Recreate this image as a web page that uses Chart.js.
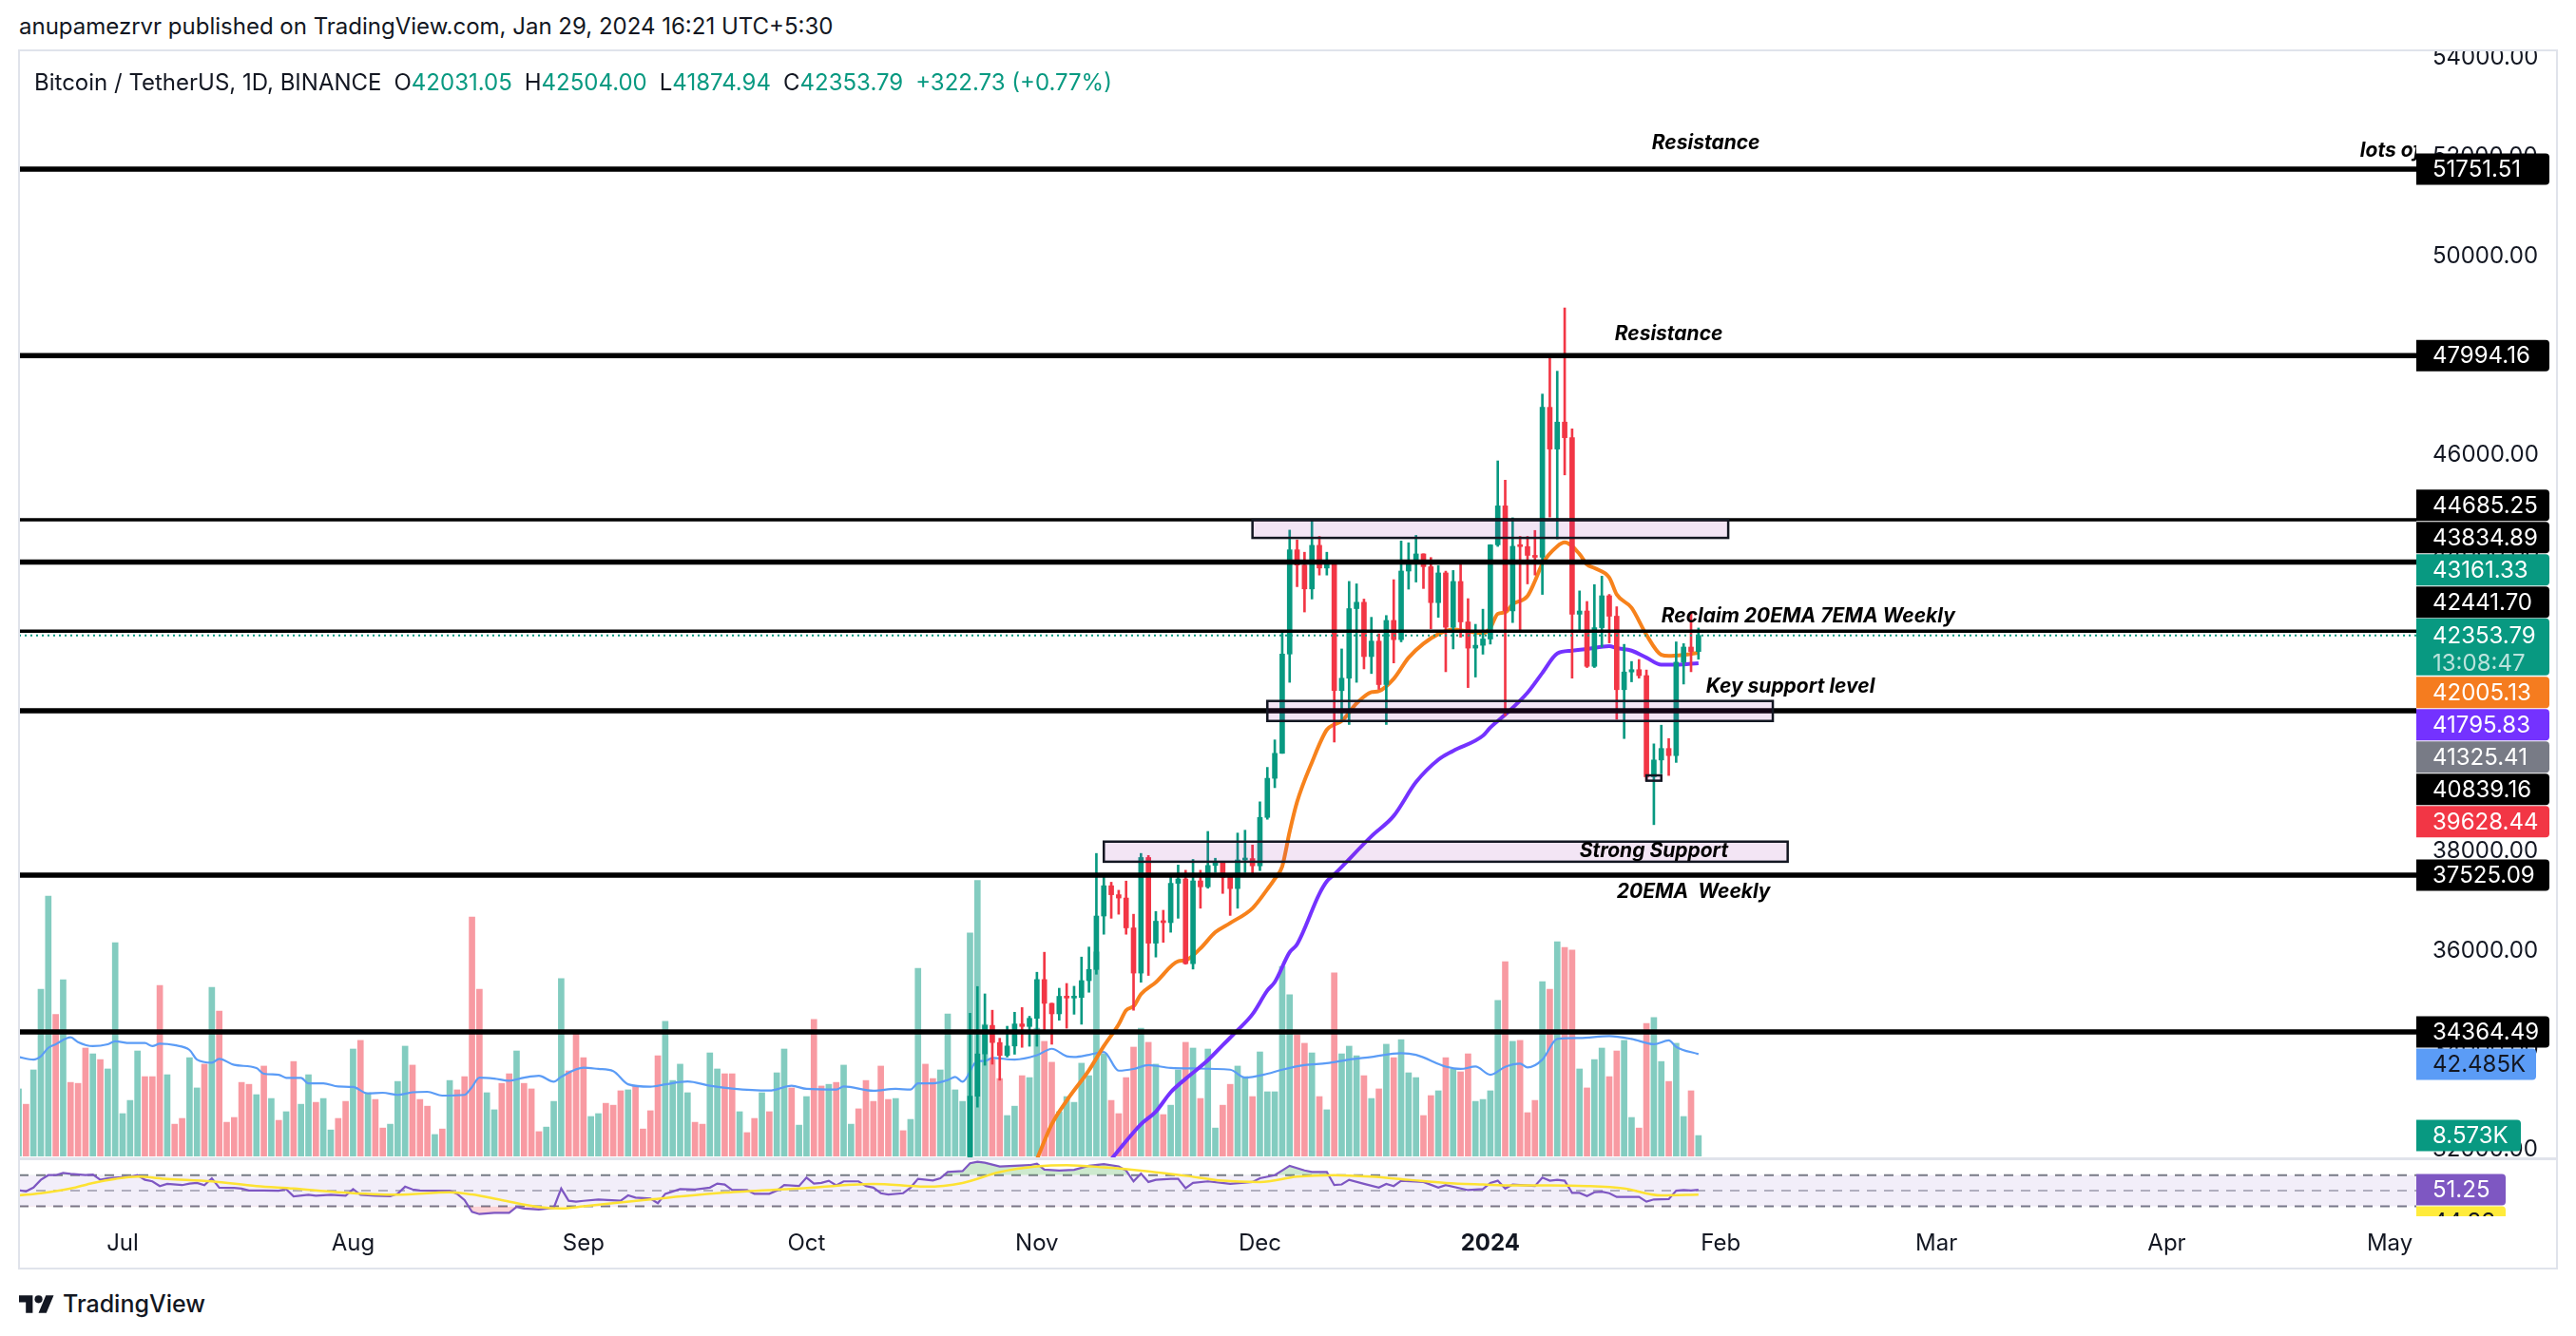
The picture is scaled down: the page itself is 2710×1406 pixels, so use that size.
<!DOCTYPE html>
<html>
<head>
<meta charset="utf-8">
<title>Bitcoin / TetherUS, 1D, BINANCE</title>
<script src="https://cdn.jsdelivr.net/npm/chart.js@4.4.1/dist/chart.umd.min.js"></script>
<style>
  html, body { margin:0; padding:0; background:#ffffff; }
  body { width:2710px; height:1406px; position:relative; overflow:hidden; font-family: Inter, "Noto Sans", Roboto, sans-serif; color:#131722; }
  #hdr { position:absolute; left:20px; top:12px; font-size:24px; line-height:32px; white-space:nowrap; }
  #legend { position:absolute; left:36px; top:71px; font-size:24px; line-height:32px; white-space:nowrap; z-index:3; }
  #legend .g { color:#089981; }
  #legend .gap { margin-left:13px; }
  canvas { position:absolute; }
  #c1 { left:20px; top:53px; }
  #c2 { left:20px; top:1219px; }
  #frame { position:absolute; left:19px; top:52px; width:2672px; height:1284px; box-sizing:border-box; border:2px solid #e0e3eb; z-index:2; pointer-events:none; }
  #sep { position:absolute; left:20px; top:1218px; width:2670px; height:3px; background:#e0e3eb; z-index:2; }
  #logo { position:absolute; left:20px; top:1356px; height:32px; display:flex; align-items:center; gap:9px; font-size:25px; font-weight:500; color:#131722; }
</style>
</head>
<body>
<div id="hdr">anupamezrvr published on TradingView.com, Jan 29, 2024 16:21 UTC+5:30</div>
<canvas id="c1" width="2670" height="1166"></canvas>
<canvas id="c2" width="2670" height="117"></canvas>
<div id="frame"></div>
<div id="sep"></div>
<div id="legend">Bitcoin / TetherUS, 1D, BINANCE<span class="gap">O<span class="g">42031.05</span></span><span class="gap">H<span class="g">42504.00</span></span><span class="gap">L<span class="g">41874.94</span></span><span class="gap">C<span class="g">42353.79</span></span><span class="gap g">+322.73 (+0.77%)</span></div>
<div id="logo"><svg width="37" height="19" viewBox="0 4 36 18"><path d="M14 22H7V11H0V4h14v18zM28 22h-8l7.5-18h8L28 22z" fill="#131722"/><circle cx="20" cy="8" r="4" fill="#131722"/></svg><span>TradingView</span></div>
<script>
// ---------------- DATA ----------------
// dates are "m/d": Jun–Dec = 2023, Jan–May = 2024
const candleStart = '10/23';
const opens  = [29993,33070,33922,34497,34152,33892,34082,34526,34475,
  34639,35421,34941,34730,35083,35049,35060,35399,35624,36701,37311,37130,37064,36462,35551,37880,36154,36596,36568,37360,37448,35741,37409,37289,37720,37796,37479,37254,37831,37858,
  37712,38688,39476,39979,41980,44080,43773,43292,44170,43713,43789,41243,41493,42895,43023,41929,42240,41364,42657,42270,43652,43869,43997,43740,43016,43614,42520,43442,42627,42099,42156,
  42283,44180,44965,42849,44151,44145,43968,43929,46951,46110,46653,46339,42782,42847,41732,42511,43154,42742,41262,41618,41665,41545,39507,39845,40077,39933,41816,42120,42031];
const highs  = [34741,35280,35132,34803,34238,34480,34762,34856,34681,
  35568,35971,34946,35246,35342,35286,35874,36076,37962,37502,37382,37220,37405,36737,37962,37921,36793,36817,37486,37728,37623,37841,37623,38405,37865,37801,37543,38373,38430,38131,
  39002,39696,40250,42402,44477,44279,44031,44683,44350,44031,43804,42083,43443,43394,43087,42720,42388,42756,43478,44258,44222,44370,44000,43925,43762,43650,43663,43804,43096,42579,42883,
  44184,45872,45483,44725,44350,44350,44470,47218,47941,47679,48954,46515,43252,43039,43379,43549,43181,42933,42175,41830,41870,41658,40170,40546,40277,42225,42189,42827,42504];
const lows   = [29883,32850,33694,33715,33392,33860,33916,34055,34077,
  34077,34400,34117,34601,34440,34722,34520,35165,35528,36334,36656,36737,36334,34802,35367,35504,35874,36172,36374,36656,35729,35632,36858,37261,37583,37156,36713,36858,37580,37502,
  37615,38650,39287,39978,41410,43337,42827,43089,43571,43571,40206,40666,40560,41410,41680,41587,41269,40560,41800,42225,43287,43431,43300,42487,42720,41623,42083,42318,41304,41516,41977,
  42180,44148,40737,42614,42459,43393,43571,43181,44740,44300,45589,41495,42437,41708,41708,42119,42204,40666,40277,41420,41495,39427,38542,39569,39533,39796,41375,41623,41875];
const closes = [33070,33922,34497,34152,33892,34082,34526,34475,34639,
  35421,34941,34730,35083,35049,35060,35399,35624,36701,37311,37130,37064,36462,35551,37880,36154,36596,36568,37360,37448,35741,37409,37289,37720,37796,37479,37254,37831,37858,37712,
  38688,39476,39979,41980,44080,43773,43292,44170,43713,43789,41243,41493,42895,43023,41929,42240,41364,42657,42270,43652,43869,43997,43740,43016,43614,42520,43442,42627,42099,42156,42283,
  44180,44965,42849,44151,44145,43968,43929,46951,46110,46653,46339,42782,42847,41732,42511,43154,42742,41262,41618,41665,41545,39507,39845,40077,39933,41816,42120,42031,42354];

// volume (thousand BTC), one bar per day from volStart
const volStart = '6/17';
const volumes = [
  28.0,21.6,35.9,69.5,108.3,59.0,73.5,30.7,30.3,45.0,42.6,40.2,36.3,88.9,
  17.7,23.2,43.8,33.1,33.1,71.1,33.9,13.3,15.7,41.0,28.4,38.3,70.3,60.4,14.1,16.1,30.7,29.9,25.6,37.5,24.0,14.9,18.5,39.4,21.6,33.9,22.4,24.0,10.9,15.7,22.8,
  44.6,48.2,26.4,23.6,11.7,13.3,31.1,45.8,37.9,23.6,20.8,9.0,11.3,31.5,27.6,33.1,99.6,69.5,26.4,19.3,30.3,34.3,43.8,30.3,28.0,10.2,12.1,22.8,73.9,35.5,50.8,
  41.0,16.5,17.7,22.0,21.2,27.2,27.6,29.2,11.3,18.9,41.8,56.1,31.5,38.3,26.4,14.1,13.3,43.0,36.3,34.3,34.3,18.5,9.8,15.7,26.4,18.5,34.7,44.6,28.4,12.9,
  24.8,56.9,29.2,29.9,30.7,37.9,13.3,19.7,31.5,22.8,37.5,23.6,24.0,10.6,15.3,78.2,38.3,32.3,35.9,59.2,27.6,22.8,92.9,114.8,54.9,40.2,32.3,16.9,20.8,33.5,32.7,
  53.3,47.8,39.1,18.5,24.8,22.4,38.7,33.5,85.0,42.6,23.2,17.7,32.7,45.4,53.3,47.4,38.3,17.3,21.2,35.9,47.4,45.0,24.0,44.6,11.7,21.2,29.9,37.5,33.1,24.8,
  43.4,26.8,26.8,79.0,67.2,50.5,47.0,43.0,24.8,19.3,76.3,42.6,45.8,41.8,33.5,24.0,28.0,46.6,41.0,48.5,34.7,32.7,16.9,25.2,27.2,41.0,36.3,35.1,42.6,22.8,23.6,
  27.2,64.8,81.0,47.8,48.2,18.1,23.2,72.7,69.5,89.3,86.9,85.8,36.3,28.4,40.2,45.0,33.1,43.8,48.2,16.1,11.7,55.3,57.7,39.4,31.1,47.0,16.5,27.2,8.573];
// g = up bar, r = down bar
const volDirs = ['grgggrgrrrgrgg','gggrrrgrrggrgrrrrrgrgrgrggrggrr','grgrrgggrrrgrgrrrrggrrgrrrgggrr',
  'rggrrrgrrrrggggrrggrrgrrgrggrg','grrgrggrrrrrgrggrrgggggggrrggrg','grrgggggggrrrrgrgrggrgrggrrggr',
  'gggggrrgrgrgggrgrgrgggrrgrgrrgg','ggrgrrrgrgrrgrggrrggrrggrggrg'].join('');

const volMA = [['6/17',41.3],['6/19',40.2],['6/20',41.6],['6/21',45.1],['6/22',46.6],['6/24',49.5],['6/25',47.5],['6/27',45.8],['6/29',46.6],['6/30',47.8],
  ['7/2',47.1],['7/4',47.1],['7/5',45.8],['7/6',46.8],['7/8',46.2],['7/10',44.2],['7/11',40.2],['7/13',38.9],['7/14',40.5],['7/16',38.0],['7/19',36.7],['7/20',34.3],['7/22',33.9],['7/23',32.6],['7/25',32.6],['7/26',30.3],['7/28',30.3],['7/30',29.0],
  ['8/1',28.8],['8/3',26.1],['8/5',26.4],['8/7',25.5],['8/9',26.6],['8/11',26.8],['8/13',25.2],['8/16',25.5],['8/17',28.8],['8/18',32.7],['8/20',32.3],['8/22',31.4],['8/24',32.7],['8/26',33.5],['8/28',31.0],['8/29',33.0],
  ['9/1',36.8],['9/3',36.3],['9/5',35.4],['9/7',29.9],['9/10',28.9],['9/12',29.9],['9/15',31.1],['9/18',29.3],['9/21',28.1],['9/26',27.3],['9/29',29.3],
  ['10/1',28.0],['10/5',27.7],['10/6',29.0],['10/10',27.2],['10/13',28.0],['10/15',27.7],['10/16',30.3],['10/18',30.3],['10/20',31.7],['10/21',33.0],['10/22',31.0],['10/24',39.6],['10/25',39.6],['10/26',40.9],['10/29',40.2],
  ['11/1',42.0],['11/3',44.7],['11/5',41.6],['11/6',41.3],['11/8',42.2],['11/10',43.4],['11/12',35.6],['11/14',36.3],['11/16',37.9],['11/19',36.7],['11/22',36.5],['11/27',36.0],['11/29',32.7],
  ['12/2',34.3],['12/4',36.0],['12/7',37.9],['12/10',38.7],['12/13',40.2],['12/16',41.3],['12/20',42.9],['12/22',42.2],['12/26',37.3],['12/28',36.3],['12/30',37.3],
  ['1/1',33.9],['1/3',37.2],['1/5',38.5],['1/6',36.9],['1/8',40.2],['1/10',48.8],['1/13',49.2],['1/17',50.0],['1/20',48.8],['1/23',46.6],['1/25',48.2],['1/26',45.5],['1/29',42.485]];

const emaOrange = [['11/1',31800],['11/3',32505],['11/5',32980],['11/8',33593],['11/10',34080],['11/12',34520],['11/13',34802],['11/14',34883],['11/15',35125],['11/17',35367],['11/20',35790],['11/21',35810],['11/23',36050],['11/25',36374],['11/27',36560],['11/30',36858],
  ['12/2',37240],['12/3',37450],['12/4',37700],['12/5',38400],['12/6',39000],['12/8',39800],['12/10',40454],['12/11',40560],['12/12',40631],['12/14',40985],['12/16',41212],['12/17',41233],['12/19',41481],['12/21',41906],['12/23',42189],['12/25',42381],['12/27',42473],['12/29',42437],['12/31',42402],
  ['1/1',42508],['1/2',42791],['1/3',42820],['1/4',42980],['1/6',43150],['1/7',43450],['1/8',43800],['1/10',44150],['1/11',44229],['1/13',43995],['1/14',43783],['1/15',43712],['1/17',43520],['1/18',43180],['1/20',42912],['1/22',42366],['1/24',41963],['1/25',41941],['1/27',41963],['1/29',42005.13]];

const emaPurple = [['11/11',31800],['11/15',32505],['11/17',32760],['11/19',33150],['11/21',33420],['11/24',33795],['11/26',34100],['11/28',34400],['11/30',34722],
  ['12/2',35200],['12/3',35371],['12/5',35971],['12/6',36132],['12/9',37150],['12/10',37400],['12/11',37540],['12/16',38308],['12/19',38719],['12/22',39400],['12/25',39852],['12/27',40029],['12/31',40334],
  ['1/1',40500],['1/3',40759],['1/6',41200],['1/8',41600],['1/10',41990],['1/12',42048],['1/14',42083],['1/17',42140],['1/18',42100],['1/20',42048],['1/22',41906],['1/24',41764],['1/26',41764],['1/29',41795.83]];

const rsi = [['6/17',50.8],['6/18',49.2],['6/19',54],['6/20',64],['6/21',70],['6/22',70],['6/23',72.8],['6/24',71.6],['6/26',70],['6/27',70.8],['6/28',64],['6/29',66],['6/30',66.8],
  ['7/2',68],['7/3',70],['7/4',64],['7/5',62],['7/6',56],['7/7',58.8],['7/9',57.2],['7/10',59.2],['7/11',60],['7/12',57.2],['7/13',66],['7/14',54],['7/16',53.6],['7/17',52.8],['7/18',50.4],['7/20',50.4],['7/22',50],['7/23',52],['7/24',42.8],['7/26',44.8],['7/27',43.6],['7/29',44.8],['7/31',43.6],
  ['8/1',52],['8/2',44.8],['8/4',43.6],['8/6',42.8],['8/7',46],['8/8',55.2],['8/9',51.6],['8/10',50.4],['8/12',50],['8/14',50],['8/15',46],['8/16',38],['8/17',22.8],['8/18',20],['8/20',21.6],['8/22',21.6],['8/23',29.2],['8/24',27.2],['8/26',26],['8/28',28],['8/29',52.8],['8/30',37.2],['8/31',36],
  ['9/1',37],['9/3',38.8],['9/6',37.2],['9/7',44],['9/8',41.2],['9/10',40],['9/11',34],['9/12',46],['9/14',52],['9/16',51.6],['9/18',54],['9/19',59.2],['9/20',58],['9/21',50.8],['9/23',50.8],['9/24',46],['9/26',46],['9/27',50],['9/28',57.2],['9/30',56],
  ['10/1',66.8],['10/2',59.2],['10/3',60],['10/4',62.8],['10/5',56.8],['10/6',62],['10/8',62],['10/9',56],['10/10',54],['10/11',46.8],['10/12',45.2],['10/14',46.8],['10/15',54],['10/16',65.2],['10/18',63.2],['10/19',66],['10/20',74],['10/22',75.2],['10/23',85.2],['10/24',87.2],['10/25',86],['10/27',81.2],['10/29',82],['10/31',82.8],
  ['11/1',84.8],['11/2',77.2],['11/4',76],['11/6',76.8],['11/8',82],['11/10',84],['11/12',81.2],['11/13',76],['11/14',62],['11/15',72],['11/16',61.2],['11/17',64],['11/19',65.2],['11/20',65.2],['11/21',53.2],['11/22',60],['11/24',62],['11/27',58.8],['11/30',61.2],
  ['12/1',66],['12/3',70],['12/5',82],['12/7',76],['12/8',74],['12/10',74],['12/11',57.2],['12/12',58],['12/13',64],['12/15',58.8],['12/17',54],['12/18',58.8],['12/19',56],['12/20',62.8],['12/23',61.2],['12/25',54],['12/26',57.2],['12/29',50.8],['12/31',52],
  ['1/1',60],['1/2',62.8],['1/3',52.8],['1/4',58],['1/7',56],['1/8',66.8],['1/9',62.8],['1/10',64],['1/11',62.8],['1/12',47.2],['1/13',47.2],['1/14',43.2],['1/15',48],['1/16',48.8],['1/17',46.8],['1/18',42],['1/19',42],['1/21',42],['1/22',36],['1/23',38.8],['1/25',39.2],['1/26',50],['1/27',50.8],['1/28',50.4],['1/29',51.25]];

const rsiMA = [['6/17',44],['6/20',46.8],['6/24',52.8],['6/27',60],['6/30',65.2],['7/3',68],['7/7',65.2],['7/13',62],['7/19',56],['7/24',52.8],['7/30',48],['8/7',44.8],['8/14',48],['8/17',45.2],['8/21',38],['8/26',29.2],['8/29',27.2],
  ['9/1',30],['9/10',38.8],['9/20',47.6],['9/30',52.8],['10/10',58.8],['10/17',55.2],['10/22',60],['10/27',74],['11/1',81.2],['11/5',82.8],['11/10',80],['11/16',74.8],['11/21',69.2],['11/26',62.8],
  ['12/1',61.2],['12/6',68],['12/11',70],['12/16',68],['12/21',64],['12/26',60],['12/31',58],['1/4',56.8],['1/9',56.8],['1/14',56],['1/19',52.8],['1/24',44],['1/29',44.83]];

// horizontal levels drawn on the chart
const levels = [51751.51, 47994.16, 44685.25, 43834.89, 42441.70, 40839.16, 37525.09, 34364.49];
const lastPrice = 42353.79;
// boxes (zones)
const zoneFrom   = ['11/30', '12/2', '11/10', '1/22'];
const zoneTo     = ['2/2',   '2/8',  '2/10',  '1/24'];
const zoneTop    = [44685,   41034,  38200,   39535];
const zoneBottom = [44320,   40631,  37795,   39427];
// text notes
const noteText  = ['Resistance', 'lots of liquidity', 'Resistance', 'Reclaim 20EMA 7EMA Weekly', 'Key support level', 'Strong Support', '20EMA  Weekly'];
const noteDate  = ['1/30', '4/27', '1/25', '1/24', '1/30', '1/13', '1/18'];
const notePrice = [52152, 51999, 48310, 42618, 41201, 37889, 37056];
// price axis
const priceTicks = [54000, 52000, 50000, 48000, 46000, 44000, 42000, 40000, 38000, 36000, 34000, 32000];
const axisLabelValues = [51751.51, 47994.16, 44685.25, 43834.89, 43161.33, 42441.70, 42353.79, 42005.13, 41795.83, 41325.41, 40839.16, 39628.44, 37525.09, 34364.49];
const volLabelValues = [42.485, 8.573];
const rsiLabelValues = [51.25, 44.83];
const countdown = '13:08:47';
// time axis
const monthTicks  = ['7/1','8/1','9/1','10/1','11/1','12/1','1/1','2/1','3/1','4/1','5/1'];
const monthLabels = ['Jul','Aug','Sep','Oct','Nov','Dec','2024','Feb','Mar','Apr','May'];

// ---------------- helpers ----------------
const DAY0 = Date.UTC(2023, 6, 1);
function dayIdx(s) {
  const [m, d] = s.split('/').map(Number);
  const y = m >= 6 ? 2023 : 2024;
  return (Date.UTC(y, m - 1, d) - DAY0) / 864e5;
}
const pts = arr => arr.map(([d, v]) => ({ x: dayIdx(d), y: v }));
const noPad = s => { s.paddingTop = 0; s.paddingBottom = 0; s.paddingLeft = 0; s.paddingRight = 0; };

// view window (days from Jul 1 2023)
const X_MIN = -13.94, X_MAX = 308.57;
const UP = '#089981', DOWN = '#f23645';
const FONT = 'Inter';
Chart.defaults.font.family = FONT;

const c0 = dayIdx(candleStart);
const candleX = opens.map((_, i) => c0 + i);
const candleCol = opens.map((o, i) => closes[i] >= o ? UP : DOWN);
const v0 = dayIdx(volStart);

const axisLabelColors = ['#000000','#000000','#000000','#000000',UP,'#000000',UP,'#f57c1f','#7432ff','#787b86','#000000',DOWN,'#000000','#000000'];
const mainLabelIndex = 6;

const thinLevels = new Set([44685.25, 42441.70]);
const levelSets = levels.map(v => ({
  type: 'line', yAxisID: 'y', order: 3, clip: 0,
  data: [{ x: X_MIN, y: v }, { x: X_MAX, y: v }],
  borderColor: '#000000', borderWidth: thinLevels.has(v) ? 3.5 : 5.5, pointRadius: 0
}));

function labelBox(ctx, x0, cy, w, bg, fg, text) {
  ctx.fillStyle = bg;
  ctx.beginPath();
  ctx.roundRect(x0, cy - 16.5, w, 33, [0, 4, 4, 0]);
  ctx.fill();
  ctx.fillStyle = fg;
  ctx.font = '24px ' + FONT;
  ctx.textAlign = 'left';
  ctx.textBaseline = 'middle';
  ctx.fillText(text, x0 + 17, cy + 1);
}
const SLOT = 34;

const mainOverlay = {
  id: 'mainOverlay',
  afterDatasetsDraw(chart) {
    const { ctx, chartArea: a, scales } = chart;
    const x = scales.x, y = scales.y;
    ctx.save();
    ctx.beginPath(); ctx.rect(a.left, a.top, a.right - a.left, a.bottom - a.top); ctx.clip();
    for (let i = 0; i < zoneFrom.length; i++) {
      const x0 = x.getPixelForValue(dayIdx(zoneFrom[i])), x1 = x.getPixelForValue(dayIdx(zoneTo[i]));
      const y0 = y.getPixelForValue(zoneTop[i]), y1 = y.getPixelForValue(zoneBottom[i]);
      ctx.fillStyle = 'rgba(156,39,176,0.12)';
      ctx.fillRect(x0, y0, x1 - x0, y1 - y0);
      ctx.strokeStyle = '#131722'; ctx.lineWidth = 2.5;
      ctx.strokeRect(x0, y0, x1 - x0, y1 - y0);
    }
    ctx.fillStyle = '#000000';
    ctx.font = 'italic 700 21px ' + FONT;
    ctx.textBaseline = 'alphabetic';
    for (let i = 0; i < noteText.length; i++) {
      ctx.textAlign = noteText[i] === 'Resistance' ? 'center' : 'left';
      ctx.fillText(noteText[i], x.getPixelForValue(dayIdx(noteDate[i])), y.getPixelForValue(notePrice[i]));
    }
    ctx.restore();
  },
  afterDraw(chart) {
    const { ctx, chartArea: a, scales } = chart;
    const items = axisLabelValues.map((v, i) => ({
      text: v.toFixed(2), ty: scales.y.getPixelForValue(v), bg: axisLabelColors[i], fg: '#ffffff', w: 140, main: i === mainLabelIndex
    }));
    volLabelValues.forEach((v, i) => items.push({
      text: v.toFixed(3) + 'K', ty: scales.yv.getPixelForValue(v), bg: i === 0 ? '#5b9cf6' : UP, fg: i === 0 ? '#131722' : '#ffffff', w: i === 0 ? 126 : 110, main: false
    }));
    const main = items.find(it => it.main);
    const mTop = main.ty - 18, mBot = mTop + 61;
    const above = items.filter(it => !it.main && it.ty < main.ty).sort((p, q) => q.ty - p.ty);
    let lim = mTop;
    for (const it of above) { it.cy = Math.min(it.ty, lim - SLOT / 2); lim = it.cy - SLOT / 2; }
    const below = items.filter(it => !it.main && it.ty >= main.ty).sort((p, q) => p.ty - q.ty);
    lim = mBot;
    for (const it of below) { it.cy = Math.max(it.ty, lim + SLOT / 2); lim = it.cy + SLOT / 2; }
    ctx.save();
    const x0 = a.right;
    for (const it of items) { if (!it.main) labelBox(ctx, x0, it.cy, it.w, it.bg, it.fg, it.text); }
    ctx.fillStyle = main.bg;
    ctx.beginPath(); ctx.roundRect(x0, mTop, main.w, 60, [0, 4, 4, 0]); ctx.fill();
    ctx.fillStyle = '#ffffff'; ctx.font = '24px ' + FONT; ctx.textAlign = 'left'; ctx.textBaseline = 'middle';
    ctx.fillText(main.text, x0 + 17, main.ty + 1);
    ctx.fillStyle = 'rgba(255,255,255,0.72)';
    ctx.fillText(countdown, x0 + 17, main.ty + 30);
    ctx.restore();
  }
};

new Chart(document.getElementById('c1'), {
  type: 'bar',
  data: {
    datasets: [
      { type: 'bar', yAxisID: 'yv', order: 10, grouped: false, clip: 0, barThickness: 6,
        data: volumes.map((v, i) => ({ x: v0 + i, y: v })),
        backgroundColor: volumes.map((_, i) => volDirs[i] === 'g' ? 'rgba(8,153,129,0.5)' : 'rgba(242,54,69,0.5)') },
      { type: 'line', yAxisID: 'yv', order: 9, clip: 0, data: pts(volMA), borderColor: '#5b9cf6', borderWidth: 2.2, pointRadius: 0, cubicInterpolationMode: 'monotone' },
      { type: 'line', yAxisID: 'y', order: 8, clip: 0, data: pts(emaOrange), borderColor: '#f7821c', borderWidth: 4, pointRadius: 0, cubicInterpolationMode: 'monotone' },
      { type: 'line', yAxisID: 'y', order: 7, clip: 0, data: pts(emaPurple), borderColor: '#7432ff', borderWidth: 4, pointRadius: 0, cubicInterpolationMode: 'monotone' },
      { type: 'bar', yAxisID: 'y', order: 6, grouped: false, clip: 0, barThickness: 2,
        data: candleX.map((x, i) => ({ x, y: [lows[i], highs[i]] })), backgroundColor: candleCol },
      { type: 'bar', yAxisID: 'y', order: 5, grouped: false, clip: 0, barThickness: 5, minBarLength: 2,
        data: candleX.map((x, i) => ({ x, y: [opens[i], closes[i]] })), backgroundColor: candleCol },
      ...levelSets,
      { type: 'line', yAxisID: 'y', order: 2, clip: 0, data: [{ x: X_MIN, y: lastPrice }, { x: X_MAX, y: lastPrice }],
        borderColor: UP, borderWidth: 2, borderDash: [2, 4], pointRadius: 0 }
    ]
  },
  options: {
    responsive: false, animation: false, events: [],
    layout: { padding: 0 },
    plugins: { legend: { display: false }, tooltip: { enabled: false } },
    scales: {
      x: { type: 'linear', min: X_MIN, max: X_MAX, offset: false, display: false, afterFit: noPad },
      y: { type: 'linear', position: 'right', min: 31819, max: 54143.6,
        grid: { display: false, drawTicks: false }, border: { display: false },
        afterBuildTicks: s => { s.ticks = priceTicks.map(v => ({ value: v })); },
        afterFit: s => { s.width = 148; noPad(s); },
        ticks: { padding: 17, autoSkip: false, crossAlign: 'near', color: '#131722', font: { family: FONT, size: 24 },
          callback: v => Number(v).toFixed(2) } },
      yv: { type: 'linear', display: false, min: -0.91, max: 460.5, afterFit: noPad }
    }
  },
  plugins: [mainOverlay]
});

const rsiOverlay = {
  id: 'rsiOverlay',
  afterDraw(chart) {
    const { ctx, chartArea: a, scales } = chart;
    ctx.save();
    ctx.beginPath(); ctx.rect(0, 0, chart.width, a.bottom); ctx.clip();
    let lim = -1e9;
    const bgs = ['#7e57c2', '#ffeb3b'], fgs = ['#ffffff', '#131722'];
    rsiLabelValues.forEach((v, i) => {
      const cy = Math.max(scales.y.getPixelForValue(v), lim + SLOT / 2);
      lim = cy + SLOT / 2;
      labelBox(ctx, a.right, cy, 94, bgs[i], fgs[i], v.toFixed(2));
    });
    ctx.restore();
  }
};
const hline = (v, color, fill) => ({
  type: 'line', order: 20, clip: 0, data: [{ x: X_MIN, y: v }, { x: X_MAX, y: v }],
  borderColor: color, borderWidth: 2, borderDash: [10, 8], pointRadius: 0,
  fill: fill ? { target: { value: 30 } } : false, backgroundColor: 'rgba(126,87,194,0.1)'
});

new Chart(document.getElementById('c2'), {
  type: 'line',
  data: {
    datasets: [
      hline(70, '#787b86', true),
      hline(50, 'rgba(120,123,134,0.55)', false),
      hline(30, '#787b86', false),
      { order: 5, clip: 0, data: pts(rsi), borderWidth: 0, pointRadius: 0,
        fill: { target: { value: 70 }, above: 'rgba(76,175,80,0.28)', below: 'rgba(0,0,0,0)' } },
      { order: 5, clip: 0, data: pts(rsi), borderWidth: 0, pointRadius: 0,
        fill: { target: { value: 30 }, above: 'rgba(0,0,0,0)', below: 'rgba(242,54,69,0.22)' } },
      { order: 2, clip: 0, data: pts(rsi), borderColor: '#7e57c2', borderWidth: 2.2, pointRadius: 0, fill: false },
      { order: 1, clip: 0, data: pts(rsiMA), borderColor: '#fde233', borderWidth: 2.5, pointRadius: 0, fill: false, cubicInterpolationMode: 'monotone' }
    ]
  },
  options: {
    responsive: false, animation: false, events: [],
    layout: { padding: 0 },
    plugins: { legend: { display: false }, tooltip: { enabled: false } },
    scales: {
      x: { type: 'linear', min: X_MIN, max: X_MAX, offset: false,
        grid: { display: false, drawTicks: false }, border: { display: false },
        afterBuildTicks: s => { s.ticks = monthTicks.map(d => ({ value: dayIdx(d) })); },
        afterFit: s => { s.height = 56; noPad(s); },
        ticks: { autoSkip: false, maxRotation: 0, padding: 14, color: '#131722',
          font: c => ({ family: FONT, size: 24, weight: c.index === 6 ? '700' : '400' }),
          callback: (v, i) => monthLabels[i] } },
      y: { type: 'linear', position: 'right', min: 17.2, max: 91.6,
        grid: { display: false }, border: { display: false }, ticks: { display: false },
        afterFit: s => { s.width = 148; noPad(s); } }
    }
  },
  plugins: [rsiOverlay]
});
</script>
</body>
</html>
